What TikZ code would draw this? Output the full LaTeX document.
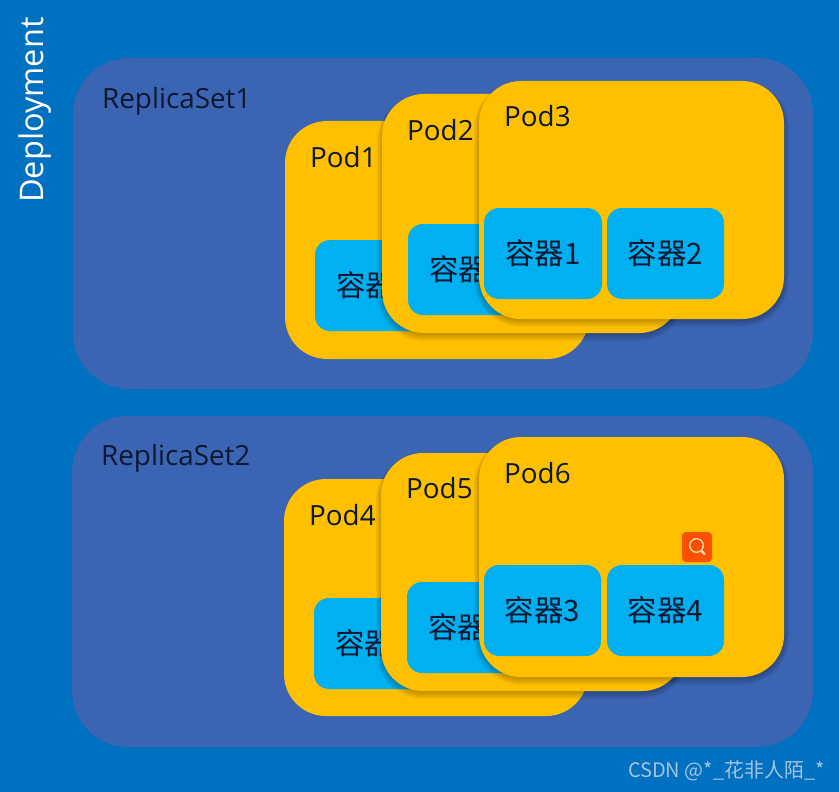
\documentclass[tikz,border=0pt]{standalone}
\usepackage{fontspec}
\setmainfont{Noto Sans CJK SC}
\newfontfamily\latinf{Open Sans}
\definecolor{bgblue}{HTML}{0070C0}
\definecolor{rsblue}{HTML}{3B64B3}
\definecolor{podyellow}{HTML}{FFC000}
\definecolor{boxblue}{HTML}{00B0F0}
\definecolor{ink}{HTML}{0C1830}
\definecolor{iconorange}{HTML}{FA5000}
\definecolor{iconline}{HTML}{FFDDB0}
\definecolor{markgray}{HTML}{A6C3DE}
\tikzset{
  x=1pt,y=-1pt,
  rsbox/.style={fill=rsblue,rounded corners=56pt,inner sep=0pt},
  podbox/.style={fill=podyellow,rounded corners=42pt,inner sep=0pt},
  ctrbox/.style={fill=boxblue,rounded corners=15pt,inner sep=0pt,text=ink,font=\fontsize{29.5}{32}\selectfont},
  lbl/.style={anchor=west,inner sep=0pt,text=ink,font=\latinf\fontsize{27.8}{32}\selectfont},
}
\newcommand{\shapebox}[6]{% style, name, x0,y0,x1,y1 (text empty)
  \node[#1,minimum width={(#5-#3)*1pt},minimum height={(#6-#4)*1pt}] (#2) at ({(#3+#5)/2},{(#4+#6)/2}) {};}
\newcommand{\ctr}[6]{% name,x0,y0,x1,y1,text
  \node[ctrbox,minimum width={(#4-#2)*1pt},minimum height={(#5-#3)*1pt}] (#1) at ({(#2+#4)/2},{(#3+#5)/2-2}) {#6};}
\newcommand{\softshadow}[4]{%
  \foreach \s in {8,7,6,5,4,3,2,1}{%
    \fill[black,opacity=0.032,rounded corners={(42+\s-3)*1pt}]
      ({#1-\s*0.75+1},{#2-\s*0.5+4}) rectangle ({#3+\s*0.75-1},{#4+\s});}}
\begin{document}
\begin{tikzpicture}
\useasboundingbox (0,0) rectangle (839,792);
\fill[bgblue] (0,0) rectangle (839,792);
\shapebox{rsbox}{rs1}{73}{58}{813}{389}
\shapebox{rsbox}{rs2}{72}{416}{813}{747}
\node[anchor=west,inner sep=0pt,rotate=90,text=white,font=\latinf\fontsize{32.5}{36}\selectfont] (dep) at (35,203) {Deployment};
\node[lbl] (rs1l) at (102,101) {ReplicaSet1};
\node[lbl] (rs2l) at (101,458) {ReplicaSet2};
% upper group
\shapebox{podbox}{pod1}{285}{121}{589}{359}
\node[lbl] (pod1l) at (310,157) {Pod1};
\ctr{c11}{315}{242}{433}{333}{容器\phantom{1}}
\softshadow{382}{94}{681}{333}
\shapebox{podbox}{pod2}{382}{94}{681}{333}
\node[lbl] (pod2l) at (407,130) {Pod2};
\ctr{c21}{408}{226}{526}{317}{容器\phantom{1}}
\softshadow{479}{81}{784}{319}
\shapebox{podbox}{pod3}{479}{81}{784}{319}
\node[lbl] (pod3l) at (504,116) {Pod3};
\ctr{c31}{484}{210}{602}{301}{容器1}
\ctr{c32}{607}{210}{724}{301}{容器2}
% lower group
\shapebox{podbox}{pod4}{284}{479}{588}{716}
\node[lbl] (pod4l) at (309,515) {Pod4};
\ctr{c41}{314}{600}{432}{691}{容器\phantom{1}}
\softshadow{381}{453}{684}{691}
\shapebox{podbox}{pod5}{381}{453}{684}{691}
\node[lbl] (pod5l) at (406,488) {Pod5};
\ctr{c51}{407}{584}{525}{675}{容器\phantom{1}}
\softshadow{479}{437}{784}{677}
\shapebox{podbox}{pod6}{479}{437}{784}{677}
\node[lbl] (pod6l) at (504,473) {Pod6};
\ctr{c61}{484}{567}{601}{658}{容器3}
\ctr{c62}{607}{567}{724}{658}{容器4}
% icon
\node[fill=iconorange,rounded corners=4pt,minimum size=30pt,inner sep=0pt] (icon) at (697,547) {};
\draw[iconline,line width=1.3pt] (696.5,545.5) circle (6.8);
\draw[iconline,line width=2.4pt,line cap=round] (701.5,551) -- (704.5,554);
% watermark
\node[anchor=east,inner sep=0pt,text=markgray,font=\fontsize{20}{22}\selectfont] (mark) at (825,771) {CSDN @*\_花非人陌\_*};
\end{tikzpicture}
\end{document}
